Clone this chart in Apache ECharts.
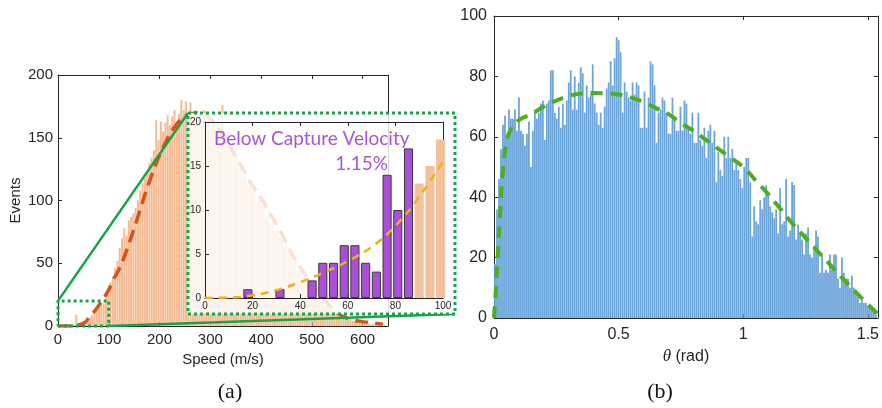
<!DOCTYPE html>
<html><head><meta charset="utf-8">
<script src="https://cdn.jsdelivr.net/npm/echarts@6/dist/echarts.min.js"></script>
<style>html,body{margin:0;padding:0;background:#fff}#c{width:882px;height:408px}</style>
</head><body><div id="c"></div>
<script>
// ---------- DATA ----------
const speedBinWidth = 4.5;               // m/s per bin (main histogram, bin centres at k*4.5)
const speedCounts = [
  0,0,0,0,0,1,0,1,9,2,
  3,4,3,6,7,9,11,13,15,17,
  18,22,29,35,39,46,52,62,70,78,
  72,84,87,90,94,100,108,114,118,122,
  130,134,140,164,148,163,155,162,168,160,
  167,172,162,169,180,172,179,170,178,166,
  172,163,170,166,172,160,164,158,166,155,
  160,150,176,148,152,140,143,132,136,126,
  127,118,124,112,116,108,110,100,104,95,
  96,88,92,82,86,76,78,70,72,64,
  64,56,58,50,52,44,46,39,40,33,
  34,28,30,24,25,20,21,16,17,13,
  13,10,11,8,9,6,7,5,6,4,
  4,3,3,2,3,2,2,1,2,1,
  1,1,0,1,0
];
const speedFitX = [0,20,40,50,60,83,100,109,120,135,155,181,208,234,254,280,300,320,340,360,380,400,420,440,460,480,500,520,540,560,580,600,620,640];
const speedFitY = [0,0,1,2,6,18,29,37,45,60,84,116,143,161,168,170,165,155,142,128,114,102,88,74,58,45,34,24,14,8,5,3.5,2.5,1.5];

const insetSpeeds = [18,31.5,45,49.5,54,58.5,63,67.5,72,76.5,81,85.5,90,94.5,99];
const insetCounts = [1,1,2,4,4,6,6,4,3,14,10,17,13,15,18];
const captureVelocity = 88;
const insetFitX = [0,10,20,30,40,50,60,70,80,90,100];
const insetFitY = [0,0.05,0.3,0.9,1.8,2.9,4.2,5.8,8.2,11.5,15.5];
const zoomBoxX = [0,100];
const zoomBoxY = [0,20];
const insetTitle = 'Below Capture Velocity';
const insetPercent = '1.15%';

const thetaBinWidth = 0.008;             // rad per bin
const thetaCounts = [
  18,36,46,56,64,67,60,69,66,66,
  69,62,73,62,61,57,61,65,50,62,
  69,66,68,71,72,59,71,72,82,82,
  68,66,70,63,71,64,72,78,82,69,
  80,69,78,83,81,68,77,73,74,84,
  71,68,64,68,63,70,76,78,85,77,
  86,93,92,88,68,78,75,73,72,78,
  74,78,77,63,63,75,63,73,85,84,
  77,58,68,69,73,72,68,61,61,73,
  66,62,62,70,62,72,71,63,61,68,
  58,58,68,59,57,63,53,62,64,58,
  62,45,55,49,47,60,53,60,53,56,
  49,52,49,46,43,50,53,53,45,27,
  37,32,31,39,36,40,44,41,37,35,
  33,36,28,43,31,32,46,27,29,45,
  44,26,31,28,26,21,28,30,21,20,
  23,29,27,15,21,15,16,15,21,16,
  21,21,13,10,20,15,13,13,10,14,
  10,9,7,5,6,5,5,4,4,3,
  2,1,0,0
];
const thetaFitX = [0,0.008,0.016,0.025,0.035,0.05,0.065,0.1,0.15,0.2,0.25,0.3,0.35,0.4,0.45,0.5,0.55,0.6,0.65,0.7,0.75,0.8,0.85,0.9,0.95,1.0,1.05,1.1,1.15,1.2,1.25,1.3,1.35,1.4,1.45,1.5,1.55];
const thetaFitY = [0,10,22,35,48,58,62,65.5,67.5,70,72,73.5,74.3,74.5,74.4,74,73,71.5,69.5,67.5,64.5,62,59,56,53,50,45.5,41,36,31,26.5,22,17.5,13,8.7,4.5,0.5];

// ---------- LAYOUT / STYLE ----------
const A = {left:58, top:75, width:330, height:251};
const I = {left:205, top:122, width:238, height:176};
const B = {left:494, top:16, width:386, height:302};
const frame = {l:17, t:9, r:12, b:16};
const GREEN = '#17a34c';
const INK = '#262626';
const SANS = 'Liberation Sans, Arial, sans-serif';

function xPair(grid, min, max, interval, fs, margin, z, showMax, extra) {
  const base = {type:'value', gridIndex:grid, min, max, interval, z,
    axisLine:{show:true, onZero:false, lineStyle:{color:INK, width:1}},
    axisTick:{show:true, inside:true, length:4, lineStyle:{color:INK}},
    splitLine:{show:false}};
  return [
    Object.assign({}, base, {position:'bottom', axisLabel:{fontSize:fs, color:INK, fontFamily:SANS, margin, showMaxLabel:showMax}}, extra||{}),
    Object.assign({}, base, {position:'top', axisLabel:{show:false}})
  ];
}
function yPair(grid, min, max, interval, fs, margin, z, extra) {
  const base = {type:'value', gridIndex:grid, min, max, interval, z,
    axisLine:{show:true, onZero:false, lineStyle:{color:INK, width:1}},
    axisTick:{show:true, inside:true, length:4, lineStyle:{color:INK}},
    splitLine:{show:false}};
  return [
    Object.assign({}, base, {position:'left', axisLabel:{fontSize:fs, color:INK, fontFamily:SANS, margin}}, extra||{}),
    Object.assign({}, base, {position:'right', axisLabel:{show:false}})
  ];
}

const xAxes = [].concat(
  xPair(0, 0, 650, 100, 15, 6, 0, false, {name:'Speed (m/s)', nameLocation:'middle', nameGap:22, nameTextStyle:{fontSize:15, color:INK, fontFamily:SANS}}),
  xPair(1, 0, 100, 20, 10, 3, 20, true),
  xPair(2, 0, 1.54, 0.5, 16, 9, 0, false, {name:'{i|θ} (rad)', nameLocation:'middle', nameGap:30,
    nameTextStyle:{fontSize:16, color:INK, fontFamily:SANS, rich:{i:{fontFamily:'Liberation Serif, serif', fontStyle:'italic', fontSize:17, color:INK}}}})
);
const yAxes = [].concat(
  yPair(0, 0, 200, 50, 15, 5, 0, {name:'Events', nameLocation:'middle', nameGap:35, nameTextStyle:{fontSize:15, color:INK, fontFamily:SANS}}),
  yPair(1, 0, 20, 5, 10, 4, 20),
  yPair(2, 0, 100, 20, 16, 7, 0)
);

const series = [
  {type:'bar', xAxisIndex:0, yAxisIndex:0, barWidth:'88%', z:2,
   itemStyle:{color:'#f5bb92'},
   data: speedCounts.map((v,k)=>[k*speedBinWidth, v])},
  {type:'line', xAxisIndex:0, yAxisIndex:0, smooth:true, symbol:'none', z:3,
   lineStyle:{color:'#d95319', width:3.5, type:[13,7]},
   data: speedFitX.map((x,i)=>[x, speedFitY[i]])},
  {type:'line', xAxisIndex:0, yAxisIndex:0, symbol:'none', z:6, clip:false,
   lineStyle:{color:GREEN, width:3, type:[3,3]},
   data:[[zoomBoxX[0],zoomBoxY[0]],[zoomBoxX[1],zoomBoxY[0]],[zoomBoxX[1],zoomBoxY[1]],[zoomBoxX[0],zoomBoxY[1]],[zoomBoxX[0],zoomBoxY[0]]]},
  {type:'bar', xAxisIndex:2, yAxisIndex:2, barWidth:'85%', z:21,
   data: insetSpeeds.map((x,i)=>({value:[x, insetCounts[i]],
     itemStyle: x < captureVelocity ? {color:'#aa4fd8', borderColor:'#3a3a3a', borderWidth:1} : {color:'#f5c19c'}}))},
  {type:'line', xAxisIndex:2, yAxisIndex:2, smooth:true, symbol:'none', z:22,
   lineStyle:{color:'#edb120', width:2.5, type:[8,6]},
   data: insetFitX.map((x,i)=>[x, insetFitY[i]])},
  {type:'bar', xAxisIndex:4, yAxisIndex:4, barWidth:'90%', z:2,
   itemStyle:{color:'#6ca5da'},
   data: thetaCounts.map((v,i)=>[(i+0.5)*thetaBinWidth, v])},
  {type:'line', xAxisIndex:4, yAxisIndex:4, smooth:true, symbol:'none', z:5,
   lineStyle:{color:'#4fae1f', width:4, type:[12,8]},
   data: thetaFitX.map((x,i)=>[x, thetaFitY[i]])}
];

const chart = echarts.init(document.getElementById('c'), null, {renderer:'canvas'});
chart.setOption({
  animation:false,
  backgroundColor:'#fff',
  grid:[
    Object.assign({}, A, {z:0}),
    Object.assign({}, I, {z:20}),
    Object.assign({}, B, {z:0})
  ],
  xAxis:xAxes,
  yAxis:yAxes,
  series
});

const fx0 = I.left - frame.l, fy0 = I.top - frame.t;
const fx1 = I.left + I.width + frame.r, fy1 = I.top + I.height + frame.b;
const pTL = chart.convertToPixel({gridIndex:0}, [zoomBoxX[0], zoomBoxY[1]]);
const pBR = chart.convertToPixel({gridIndex:0}, [zoomBoxX[1], zoomBoxY[0]]);

chart.setOption({
  graphic:[
    {type:'line', z:7, shape:{x1:pTL[0], y1:pTL[1], x2:fx0, y2:fy0}, style:{stroke:GREEN, lineWidth:2.5}},
    {type:'line', z:7, shape:{x1:pBR[0], y1:pBR[1], x2:fx1, y2:fy1}, style:{stroke:GREEN, lineWidth:2.5}},
    {type:'rect', z:10, shape:{x:fx0, y:fy0, width:fx1-fx0, height:fy1-fy0},
     style:{fill:'rgba(255,255,255,0.82)', stroke:GREEN, lineWidth:3, lineDash:[3,3]}},
    {type:'text', z:40, x:I.left+9, y:I.top+17, style:{text:insetTitle, fill:'#a855d8', font:'19px Lato, "Open Sans", sans-serif', textVerticalAlign:'middle'}},
    {type:'text', z:40, x:I.left+183, y:I.top+42, style:{text:insetPercent, fill:'#a855d8', font:'19px Lato, "Open Sans", sans-serif', textAlign:'right', textVerticalAlign:'middle'}},
    {type:'text', z:40, x:230, y:392, style:{text:'(a)', fill:'#111', font:'22px "Liberation Serif", serif', textAlign:'center', textVerticalAlign:'middle'}},
    {type:'text', z:40, x:660, y:392, style:{text:'(b)', fill:'#111', font:'22px "Liberation Serif", serif', textAlign:'center', textVerticalAlign:'middle'}}
  ]
});
</script>
</body></html>
